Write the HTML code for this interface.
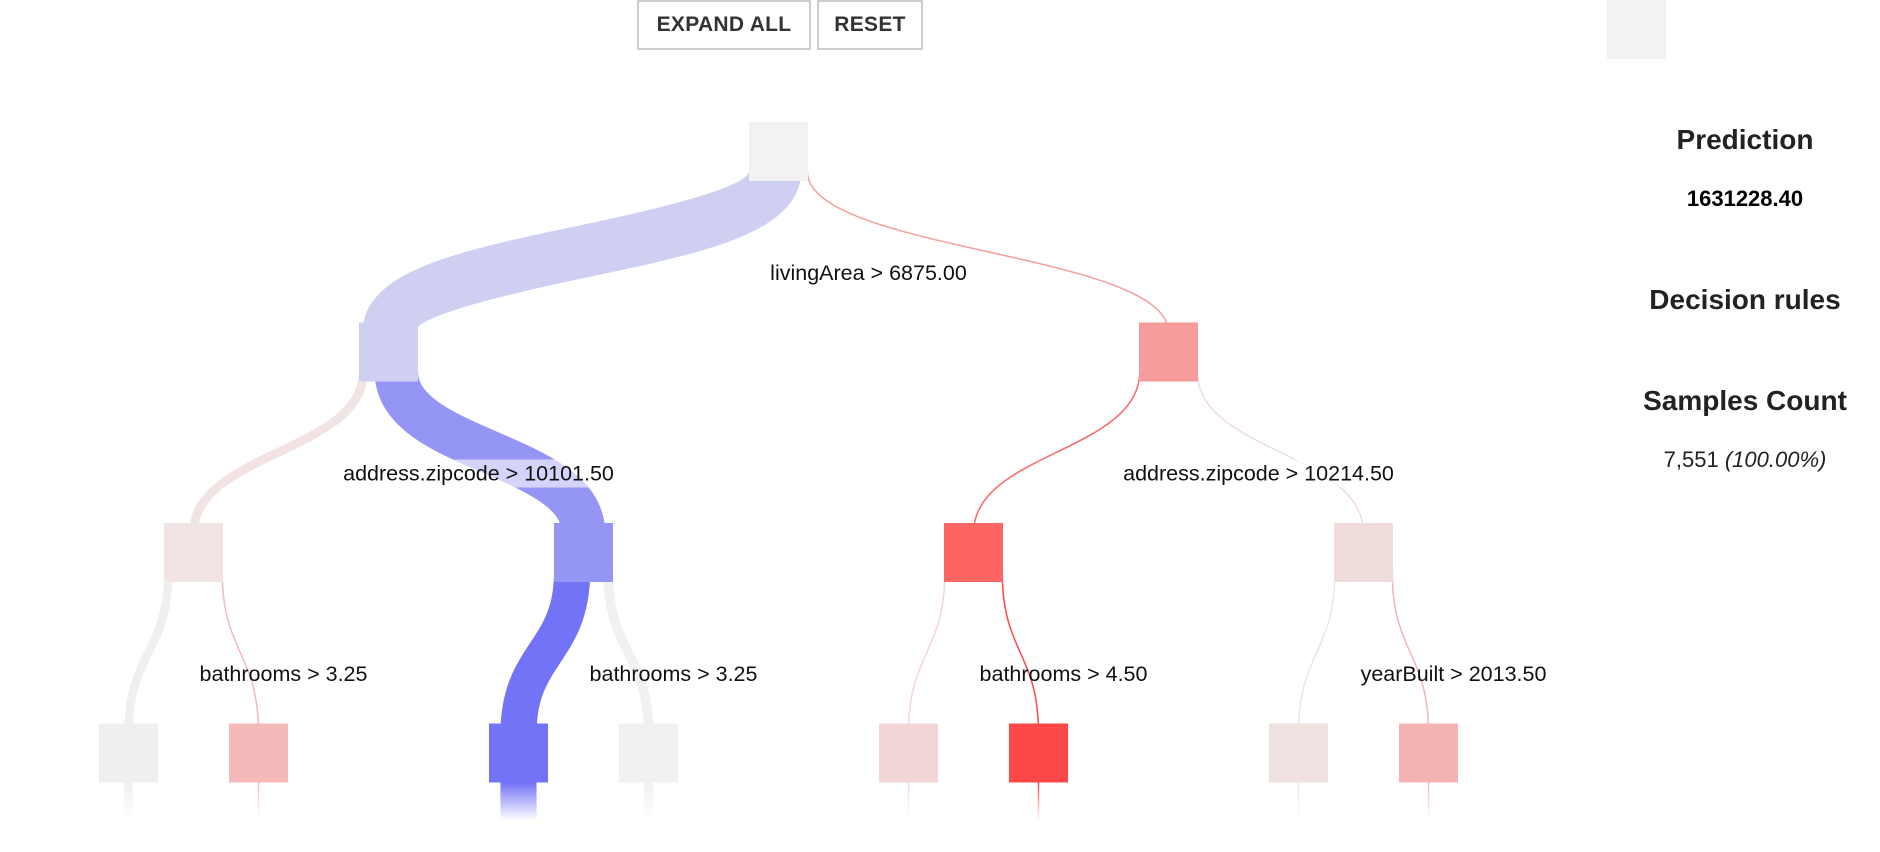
<!DOCTYPE html>
<html><head><meta charset="utf-8"><style>
html,body{margin:0;padding:0;background:#fff;width:1880px;height:852px;overflow:hidden;font-family:"Liberation Sans",sans-serif}
.btn{position:absolute;top:0;height:50px;border:2px solid #ccc;background:#fff;color:#333;font-weight:bold;font-size:21px;display:flex;align-items:center;justify-content:center;box-sizing:border-box;letter-spacing:0.3px}
.panel{position:absolute;left:1600px;width:290px;text-align:center;color:#222}
</style></head><body>
<div class="btn" style="left:637px;width:174px">EXPAND ALL</div>
<div class="btn" style="left:817px;width:106px">RESET</div>
<div style="position:absolute;left:1607px;top:0;width:59px;height:59px;background:#f2f2f2"></div>
<div class="panel" style="top:124px;font-size:28px;font-weight:bold">Prediction</div>
<div class="panel" style="top:186px;font-size:22px;font-weight:bold;color:#000">1631228.40</div>
<div class="panel" style="top:284px;font-size:28px;font-weight:bold">Decision rules</div>
<div class="panel" style="top:385px;font-size:28px;font-weight:bold">Samples Count</div>
<div class="panel" style="top:447px;font-size:22px">7,551 <i>(100.00%)</i></div>
<svg id="tree" width="1600" height="852" style="position:absolute;left:0;top:0"></svg>
<script>
// node order: root, L, R, LL, LR, RL, RR, LLL, LLR, LRL, LRR, RLL, RLR, RRL, RRR
const nodeIds = ["root","l","r","ll","lr","rl","rr","lll","llr","lrl","lrr","rll","rlr","rrl","rrr"];
const nodeSamples = [7551,6800,100,1150,5650,60,40,1100,50,4700,1250,30,30,20,20];
const nodeColors = ["#f2f2f2","#cfcff2","#f69c9c","#f2e4e4","#9595f5","#fd6565","#f1dcdc","#f1eeee","#f4baba","#7373f7","#f1f1f1","#f2d6d6","#fd4848","#f1e2e2","#f4b4b4"];
const splitRules = ["livingArea > 6875.00","address.zipcode > 10101.50","address.zipcode > 10214.50","bathrooms > 3.25","bathrooms > 3.25","bathrooms > 4.50","yearBuilt > 2013.50"];

const NS="http://www.w3.org/2000/svg";
const svg=document.getElementById('tree');
const S=59, depthY=d=>122+d*200.5, leafX=i=>193.5+Math.floor(i/2)*390+(i%2?65:-65);
const widthOf=s=>Math.max(1.5,s/7551*58);
function el(t,a){const e=document.createElementNS(NS,t);for(const k in a)e.setAttribute(k,a[k]);svg.appendChild(e);return e;}
const depth=i=>Math.floor(Math.log2(i+1));
const cx=[];
for(let i=14;i>=0;i--){ if(i>=7) cx[i]=leafX(i-7); else cx[i]=(cx[2*i+1]+cx[2*i+2])/2; }
const defs=el('defs',{});
nodeColors.forEach((c,i)=>{const g=document.createElementNS(NS,'linearGradient');g.setAttribute('id','g'+i);g.setAttribute('x1','0');g.setAttribute('y1','0');g.setAttribute('x2','0');g.setAttribute('y2','1');
g.innerHTML=`<stop offset="0" stop-color="${c}"/><stop offset="1" stop-color="${c}" stop-opacity="0"/>`;defs.appendChild(g);});
for(let p=0;p<7;p++){
  let off=cx[p]-S/2;
  for(const c of [2*p+1,2*p+2]){
    const w=widthOf(nodeSamples[c]);
    let x0=off+w/2; if(c===2*p+2) x0=Math.max(x0,cx[p]+S/2-w/2);
    off+=w;
    const y0=depthY(depth(p))+S-10, x1=cx[c], y1=depthY(depth(c))+10, m=(y0+y1)/2;
    const path=el('path',{d:`M${x0},${y0} C${x0},${m} ${x1},${m} ${x1},${y1}`,fill:'none',stroke:nodeColors[c],'stroke-width':w});
    
    
  }
}
for(let i=7;i<15;i++){
  const w=widthOf(nodeSamples[i]);const y=depthY(3)+S;
  const r=el('rect',{x:cx[i]-w/2,y:y,width:w,height:38,fill:`url(#g${i})`});
  
  
}
for(let p=0;p<7;p++){
  const y=depthY(depth(p))+S+92, x=cx[p]+90;
  const t=el('text',{x:x,y:y+7,'text-anchor':'middle','font-size':'21.5','font-family':'Liberation Sans, sans-serif',fill:'#111'});
  t.textContent=splitRules[p];
  
  
  if(p===1||p===2){const bb=t.getBBox();const r=el('rect',{x:bb.x-2,y:bb.y-2,width:bb.width+4,height:bb.height+4,fill:'rgba(255,255,255,0.6)'});svg.insertBefore(r,t);
    
    }
}
for(let i=0;i<15;i++){
  const r=el('rect',{x:cx[i]-S/2,y:depthY(depth(i)),width:S,height:S,fill:nodeColors[i]});
  
  
}
</script>
</body></html>
